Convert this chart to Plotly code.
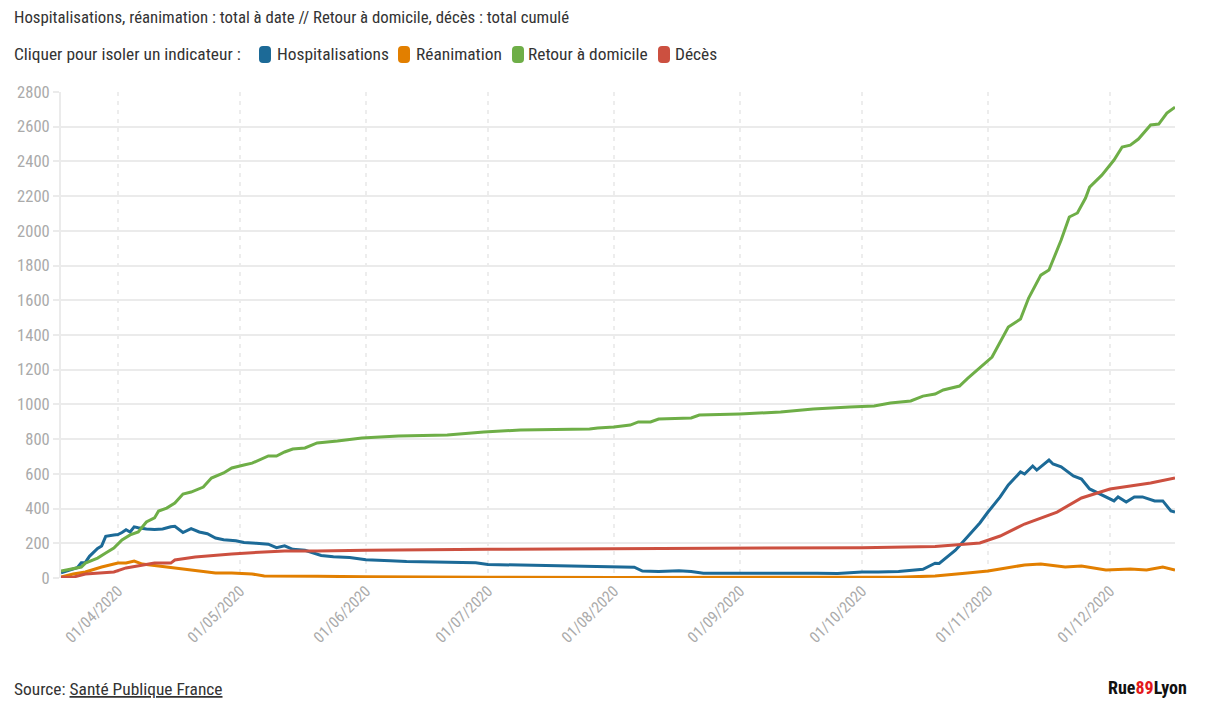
import plotly.graph_objects as go

# ---------------- data ----------------
hosp_dates = ["2020-03-18","2020-03-20","2020-03-22","2020-03-23","2020-03-24","2020-03-25","2020-03-27","2020-03-28",
              "2020-03-29","2020-03-31","2020-04-01","2020-04-02","2020-04-03","2020-04-04","2020-04-05","2020-04-06",
              "2020-04-08","2020-04-10","2020-04-12","2020-04-14","2020-04-15","2020-04-17","2020-04-19","2020-04-21",
              "2020-04-23","2020-04-25","2020-04-27","2020-04-30","2020-05-02","2020-05-05","2020-05-08","2020-05-10",
              "2020-05-12","2020-05-14","2020-05-17","2020-05-21","2020-05-24","2020-05-28","2020-06-01","2020-06-07",
              "2020-06-11","2020-06-18","2020-06-23","2020-06-28","2020-07-01","2020-07-09","2020-07-18","2020-07-26",
              "2020-07-30","2020-08-03","2020-08-06","2020-08-08","2020-08-12","2020-08-17","2020-08-20","2020-08-23",
              "2020-09-01","2020-09-10","2020-09-20","2020-09-25","2020-10-01","2020-10-05","2020-10-10","2020-10-13",
              "2020-10-16","2020-10-19","2020-10-20","2020-10-24","2020-10-27","2020-10-30","2020-11-01","2020-11-04",
              "2020-11-06","2020-11-09","2020-11-10","2020-11-12","2020-11-13","2020-11-16","2020-11-17","2020-11-19",
              "2020-11-22","2020-11-24","2020-11-26","2020-11-28","2020-12-02","2020-12-03","2020-12-05","2020-12-07",
              "2020-12-09","2020-12-12","2020-12-14","2020-12-16","2020-12-17"]
hosp_values = [30,45,60,88,90,125,170,185,
               240,248,250,262,278,265,295,290,
               282,280,282,295,298,262,285,265,
               255,230,220,215,205,200,195,175,
               185,165,160,130,122,118,105,100,
               95,92,92,88,78,75,70,70,
               68,65,62,40,38,42,38,28,
               30,28,28,26,35,34,38,45,
               50,85,84,160,236,317,380,467,
               536,611,599,645,622,680,657,640,
               588,570,513,490,444,467,438,467,
               467,444,444,386,380]

rea_dates = ["2020-03-18","2020-03-21","2020-03-24","2020-03-28","2020-04-01","2020-04-03","2020-04-05","2020-04-07",
             "2020-04-11","2020-04-15","2020-04-20","2020-04-25","2020-04-29","2020-05-04","2020-05-07","2020-05-16",
             "2020-05-20","2020-06-01","2020-06-15","2020-07-01","2020-08-01","2020-09-01","2020-10-01","2020-10-10",
             "2020-10-15","2020-10-19","2020-10-27","2020-11-01","2020-11-04","2020-11-10","2020-11-14","2020-11-20",
             "2020-11-24","2020-11-30","2020-12-06","2020-12-10","2020-12-14","2020-12-17"]
rea_values = [5,23,35,63,86,86,98,80,
              69,58,46,29,29,23,12,12,
              10,7,5,4,3,3,4,5,
              8,12,29,40,52,75,80,63,
              69,46,52,46,63,46]

rad_dates = ["2020-03-18","2020-03-19","2020-03-21","2020-03-23","2020-03-24","2020-03-27","2020-03-29","2020-03-31",
             "2020-04-02","2020-04-04","2020-04-06","2020-04-08","2020-04-10","2020-04-11","2020-04-13","2020-04-15",
             "2020-04-17","2020-04-19","2020-04-22","2020-04-24","2020-04-27","2020-04-29","2020-05-02","2020-05-04",
             "2020-05-08","2020-05-10","2020-05-12","2020-05-14","2020-05-17","2020-05-20","2020-05-25","2020-05-31",
             "2020-06-09","2020-06-21","2020-06-30","2020-07-09","2020-07-26","2020-07-28","2020-08-01","2020-08-05",
             "2020-08-07","2020-08-10","2020-08-12","2020-08-20","2020-08-22","2020-09-01","2020-09-11","2020-09-19",
             "2020-09-28","2020-10-04","2020-10-08","2020-10-13","2020-10-16","2020-10-19","2020-10-21","2020-10-25",
             "2020-10-27","2020-11-02","2020-11-06","2020-11-09","2020-11-11","2020-11-14","2020-11-16","2020-11-19",
             "2020-11-21","2020-11-23","2020-11-25","2020-11-26","2020-11-29","2020-12-02","2020-12-04","2020-12-06",
             "2020-12-08","2020-12-11","2020-12-13","2020-12-15","2020-12-17"]
rad_values = [40,45,55,63,86,115,144,173,
              219,248,265,323,346,386,403,432,
              484,495,524,576,605,634,651,662,
              703,703,726,743,749,778,789,806,
              818,824,841,853,858,864,870,881,
              899,899,916,922,939,945,956,974,
              985,991,1008,1020,1048,1060,1083,1106,
              1150,1273,1446,1492,1613,1745,1774,1947,
              2080,2103,2189,2252,2321,2408,2483,2494,
              2529,2610,2615,2679,2713]

dec_dates = ["2020-03-18","2020-03-21","2020-03-24","2020-03-28","2020-03-31","2020-04-03","2020-04-06","2020-04-10",
             "2020-04-14","2020-04-15","2020-04-20","2020-04-25","2020-04-29","2020-05-07","2020-05-12","2020-05-20",
             "2020-06-01","2020-07-01","2020-08-01","2020-09-01","2020-10-01","2020-10-19","2020-10-30","2020-11-04",
             "2020-11-10","2020-11-18","2020-11-24","2020-12-01","2020-12-06","2020-12-11","2020-12-17"]
dec_values = [5,5,23,29,35,58,69,86,
              86,104,121,132,138,150,155,156,
              160,165,167,172,175,182,202,242,
              311,380,461,513,530,547,576]

series_names = ["Hospitalisations", "Réanimation", "Retour à domicile", "Décès"]
series_colors = ["#1c6a97", "#e27f00", "#6eae47", "#cc5040"]

month_ticks = ["2020-04-01","2020-05-01","2020-06-01","2020-07-01","2020-08-01",
               "2020-09-01","2020-10-01","2020-11-01","2020-12-01"]
month_labels = ["01/04/2020","01/05/2020","01/06/2020","01/07/2020","01/08/2020",
                "01/09/2020","01/10/2020","01/11/2020","01/12/2020"]
y_ticks = list(range(0, 2801, 200))

# ---------------- layout helpers ----------------
W, H = 1216, 703
L, R, T, B = 61, 41, 92, 125
PW, PH = W - L - R, H - T - B
FONT = "Roboto Condensed, Liberation Sans Narrow, Arial Narrow, Roboto, sans-serif"


def fx(px):
    return (px - L) / PW


def fy(py):
    return (H - B - py) / PH


def rounded_rect(x0, y0, x1, y1, r):
    # pixel box -> paper-coordinate SVG path with rounded corners
    pts = []
    pts.append(f"M {fx(x0 + r)},{fy(y0)}")
    pts.append(f"L {fx(x1 - r)},{fy(y0)}")
    pts.append(f"Q {fx(x1)},{fy(y0)} {fx(x1)},{fy(y0 + r)}")
    pts.append(f"L {fx(x1)},{fy(y1 - r)}")
    pts.append(f"Q {fx(x1)},{fy(y1)} {fx(x1 - r)},{fy(y1)}")
    pts.append(f"L {fx(x0 + r)},{fy(y1)}")
    pts.append(f"Q {fx(x0)},{fy(y1)} {fx(x0)},{fy(y1 - r)}")
    pts.append(f"L {fx(x0)},{fy(y0 + r)}")
    pts.append(f"Q {fx(x0)},{fy(y0)} {fx(x0 + r)},{fy(y0)}")
    pts.append("Z")
    return " ".join(pts)


# ---------------- figure ----------------
fig = go.Figure()

all_x = [hosp_dates, rea_dates, rad_dates, dec_dates]
all_y = [hosp_values, rea_values, rad_values, dec_values]
for name, color, xs, ys in zip(series_names, series_colors, all_x, all_y):
    fig.add_trace(go.Scatter(x=xs, y=ys, mode="lines", name=name,
                             showlegend=False, line=dict(color=color, width=3),
                             hovertemplate="%{x|%d/%m/%Y}: %{y}<extra>" + name + "</extra>"))

fig.update_layout(
    width=W, height=H,
    margin=dict(l=L, r=R, t=T, b=B),
    paper_bgcolor="white", plot_bgcolor="white",
    font=dict(family=FONT, size=14, color="#333333"),
    showlegend=False,
    xaxis=dict(type="date", range=["2020-03-17.7", "2020-12-17.5"],
               tickvals=month_ticks, ticktext=month_labels, tickangle=-45,
               tickfont=dict(family=FONT, size=15.5, color="#aaaaaa"),
               showgrid=True, gridcolor="#ededed", griddash="4px,5px", gridwidth=2,
               zeroline=False, showline=False, ticks=""),
    yaxis=dict(range=[0, 2800], tickvals=y_ticks,
               tickfont=dict(family=FONT, size=16.5, color="#aaaaaa"),
               showgrid=True, gridcolor="#ebebeb", gridwidth=2,
               zeroline=False, showline=True, linecolor="#ebebeb", linewidth=2,
               ticks="outside", ticklen=6, tickcolor="#ebebeb", tickwidth=2,
               fixedrange=True),
)

# title / subtitle
fig.add_annotation(text="Hospitalisations, réanimation : total à date // Retour à domicile, décès : total cumulé",
                   xref="paper", yref="paper", x=fx(12), y=fy(17),
                   xanchor="left", yanchor="middle", showarrow=False,
                   font=dict(family=FONT, size=16.8, color="#333333"))
fig.add_annotation(text="Cliquer pour isoler un indicateur :",
                   xref="paper", yref="paper", x=fx(12), y=fy(54),
                   xanchor="left", yanchor="middle", showarrow=False,
                   font=dict(family=FONT, size=17.4, color="#333333"))

# manual legend (rounded colour chips + labels)
legend_chip_x = [259, 398, 512, 658]
legend_text_x = [275, 414, 526, 673]
for name, color, cx, tx in zip(series_names, series_colors, legend_chip_x, legend_text_x):
    fig.add_shape(type="path", xref="paper", yref="paper",
                  path=rounded_rect(cx, 46, cx + 12, 63, 4),
                  fillcolor=color, line=dict(width=0), layer="above")
    fig.add_annotation(text=name, xref="paper", yref="paper", x=fx(tx), y=fy(54),
                       xanchor="left", yanchor="middle", showarrow=False,
                       font=dict(family=FONT, size=17.4, color="#333333"))

# footer
fig.add_annotation(text="Source: <u>Santé Publique France</u>",
                   xref="paper", yref="paper", x=fx(12), y=fy(689),
                   xanchor="left", yanchor="middle", showarrow=False,
                   font=dict(family=FONT, size=17.4, color="#333333"))
fig.add_annotation(text="<b>Rue<span style='color:#e3191b'>89</span>Lyon</b>",
                   xref="paper", yref="paper", x=fx(1189), y=fy(687),
                   xanchor="right", yanchor="middle", showarrow=False,
                   font=dict(family=FONT, size=18, color="#111111"))

fig.write_html("out.html")
